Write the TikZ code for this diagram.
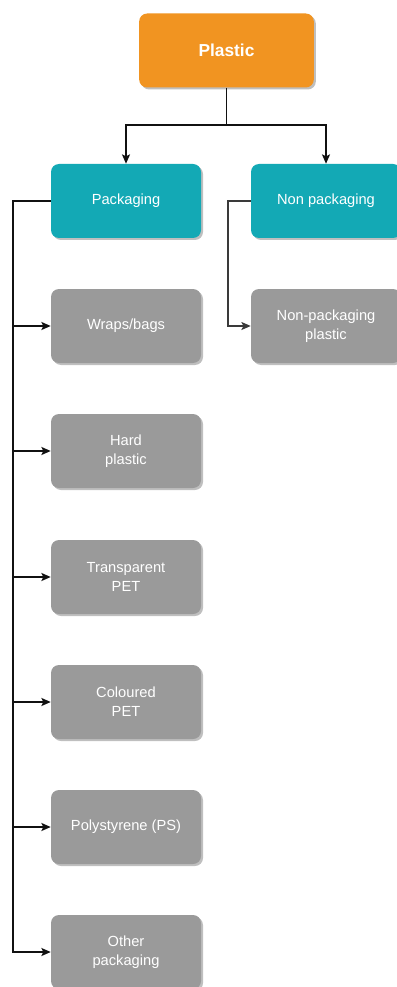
\documentclass[tikz,border=0pt]{standalone}
\usepackage{fontspec}
\setmainfont{Liberation Sans}
\usetikzlibrary{arrows.meta,shadows}
\definecolor{plOrange}{HTML}{F19421}
\definecolor{plTeal}{HTML}{13A9B5}
\definecolor{plGrey}{HTML}{9A9A9A}
\definecolor{plInk}{HTML}{111111}
\definecolor{plLine}{HTML}{3A3A3A}
\tikzset{
  pl diagram/.style={x=0.75pt, y=-0.75pt, line cap=butt, line join=miter},
  pl box/.style={draw=none, rounded corners=6pt, minimum width=112.5pt,
    minimum height=55.5pt, align=center, text=white,
    font=\fontsize{11}{14.5}\selectfont,
    drop shadow={shadow xshift=1.5pt, shadow yshift=-1.5pt,
      fill=black, opacity=0.25}},
  pl root/.style={pl box, fill=plOrange, minimum width=131pt,
    font=\fontsize{13}{16}\selectfont\bfseries},
  pl group/.style={pl box, fill=plTeal},
  pl leaf/.style={pl box, fill=plGrey},
  pl arrow/.style={-{Stealth[length=7pt,width=6pt,inset=1.5pt]}, draw=plInk,
    line width=1pt},
  pl trunk/.style={pl arrow, line width=1.2pt},
  pl side/.style={pl arrow, draw=plLine, line width=0.8pt}
}
\begin{document}
\begin{tikzpicture}[pl diagram]
\useasboundingbox[fill=white] (0,0) rectangle (396,987);
% top level
\node[pl root] (plastic) at (226.5,50.5) {Plastic};
\node[pl group] (pack) at (126,201) {Packaging};
\node[pl group] (nonpack) at (326,201) {Non packaging};
% packaging children
\node[pl leaf] (wraps) at (126,326) {Wraps/bags};
\node[pl leaf] (hard) at (126,451) {Hard\\plastic};
\node[pl leaf] (tpet) at (126,577) {Transparent\\PET};
\node[pl leaf] (cpet) at (126,702) {Coloured\\PET};
\node[pl leaf] (ps) at (126,827) {Polystyrene (PS)};
\node[pl leaf] (other) at (126,952) {Other\\packaging};
% non packaging child
\node[pl leaf] (npplastic) at (326,326) {Non-packaging\\plastic};
% joints
\coordinate (split) at (226.5,125);
\coordinate (packjoin) at (13,201);
\coordinate (nonjoin) at (228,201);
\draw[pl arrow] (plastic) -- (split) -| (pack);
\draw[pl arrow] (plastic) -- (split) -| (nonpack);
\foreach \leaf in {wraps,hard,tpet,cpet,ps,other}
  \draw[pl trunk] (pack.west) -- (packjoin) |- (\leaf.west);
\draw[pl side] (nonpack.west) -- (nonjoin) |- (npplastic.west);
\end{tikzpicture}
\end{document}
